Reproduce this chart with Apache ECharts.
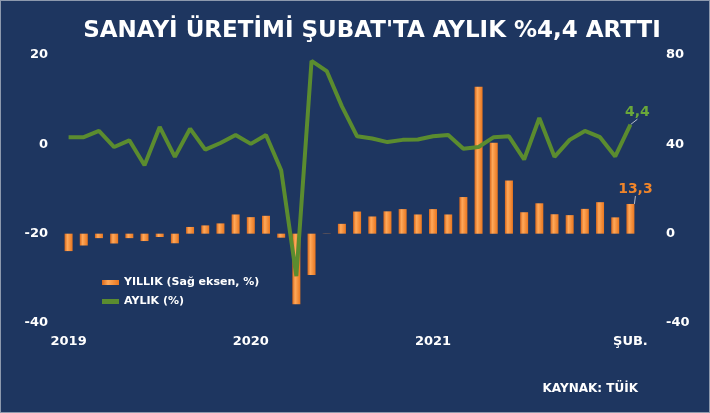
<!DOCTYPE html>
<html><head><meta charset="utf-8">
<script src="https://cdn.jsdelivr.net/npm/echarts@6/dist/echarts.min.js"></script>
<style>html,body{margin:0;padding:0;background:#1e3660;}#c{width:710px;height:413px;box-sizing:border-box;border:1px solid #8d99ad;}</style>
</head><body><div id="c"></div><script>
const months = ['Oca 2019','Şub 2019','Mar 2019','Nis 2019','May 2019','Haz 2019','Tem 2019','Ağu 2019','Eyl 2019','Eki 2019','Kas 2019','Ara 2019',
'Oca 2020','Şub 2020','Mar 2020','Nis 2020','May 2020','Haz 2020','Tem 2020','Ağu 2020','Eyl 2020','Eki 2020','Kas 2020','Ara 2020',
'Oca 2021','Şub 2021','Mar 2021','Nis 2021','May 2021','Haz 2021','Tem 2021','Ağu 2021','Eyl 2021','Eki 2021','Kas 2021','Ara 2021',
'Oca 2022','Şub 2022'];
const tickLabels = {0:'2019',12:'2020',24:'2021',37:'ŞUB.'};
const yillik = [-7.8,-5.3,-2.0,-4.4,-2.0,-3.3,-1.5,-4.3,3.0,3.7,4.6,8.6,7.4,8.0,-1.8,-31.6,-18.5,-0.1,4.4,9.9,7.7,10.0,11.0,8.6,11.0,8.6,16.4,65.8,40.7,23.8,9.6,13.6,8.7,8.3,11.1,14.1,7.3,13.3];
const aylik = [1.6,1.6,3.0,-0.6,0.9,-4.7,3.9,-2.8,3.5,-1.2,0.3,2.1,0.1,2.1,-5.8,-29.5,18.7,16.4,8.5,1.8,1.3,0.5,1.0,1.1,1.8,2.1,-1.0,-0.6,1.6,1.8,-3.4,5.9,-2.8,1.0,3.0,1.6,-2.7,4.4];
const leftTicks = {min:-40,max:20,interval:20};
const rightTicks = {min:-40,max:80,interval:40};

const FONT = 'DejaVu Sans';
const last = months.length - 1;
const chart = echarts.init(document.getElementById('c'), null, {renderer:'canvas'});
const orange = '#f0852a', green = '#5b8c2f';
const barGrad = new echarts.graphic.LinearGradient(0,0,1,0,[
  {offset:0,color:'#d9671a'},{offset:0.35,color:'#ffa95a'},{offset:1,color:'#e9761f'}]);
const fmt = v => String(v).replace('.',',');
const guide = {show:true,lineStyle:{color:'#b4bccb',width:1}};
chart.setOption({
  backgroundColor:'#1e3660',
  animation:false,
  title:{text:"SANAYİ ÜRETİMİ ŞUBAT'TA AYLIK %4,4 ARTTI",left:366,textAlign:'center',top:14,
    textStyle:{color:'#ffffff',fontFamily:FONT,fontWeight:'bold',fontSize:23}},
  graphic:[{type:'text',right:71,top:382,style:{text:'KAYNAK: TÜİK',fill:'#ffffff',font:'bold 12px "DejaVu Sans"'}}],
  legend:{orient:'vertical',left:96,top:271,itemGap:8,itemWidth:17,itemHeight:5,
    textStyle:{color:'#ffffff',fontFamily:FONT,fontWeight:'bold',fontSize:11},
    data:[{name:'YILLIK (Sağ eksen, %)',icon:'rect'},{name:'AYLIK (%)',icon:'rect'}]},
  grid:{left:60,right:71,top:54,bottom:89},
  xAxis:{type:'category',data:months,boundaryGap:true,
    axisLine:{show:false},axisTick:{show:false},
    axisLabel:{interval:0,margin:12,color:'#ffffff',fontFamily:FONT,fontWeight:'bold',fontSize:13,
      formatter:(v,i)=>tickLabels[i]||''}},
  yAxis:[
    {type:'value',min:leftTicks.min,max:leftTicks.max,interval:leftTicks.interval,splitLine:{show:false},
     axisLine:{show:false},axisTick:{show:false},
     axisLabel:{margin:13,color:'#ffffff',fontFamily:FONT,fontWeight:'bold',fontSize:13}},
    {type:'value',min:rightTicks.min,max:rightTicks.max,interval:rightTicks.interval,splitLine:{show:false},
     axisLine:{show:false},axisTick:{show:false},
     axisLabel:{margin:28,color:'#ffffff',fontFamily:FONT,fontWeight:'bold',fontSize:13}}
  ],
  series:[
    {name:'YILLIK (Sağ eksen, %)',type:'bar',yAxisIndex:1,barWidth:8,
     itemStyle:{color:barGrad},
     labelLine:guide,
     labelLayout:p=>p.dataIndex===last?{dx:5,dy:-3}:{},
     data:yillik.map((v,i)=>i===last?{value:v,label:{show:true,position:'top',distance:5,formatter:()=>fmt(v),
       color:orange,fontFamily:FONT,fontWeight:'bold',fontSize:14}}:v)},
    {name:'AYLIK (%)',type:'line',yAxisIndex:0,symbol:'none',z:3,
     lineStyle:{color:green,width:4},itemStyle:{color:green},
     labelLine:guide,
     labelLayout:p=>p.dataIndex===last?{dx:7,dy:0}:{},
     data:aylik.map((v,i)=>i===last?{value:v,symbol:'circle',symbolSize:1,label:{show:true,position:'top',distance:5,formatter:()=>fmt(v),
       color:'#6aa83a',fontFamily:FONT,fontWeight:'bold',fontSize:14}}:v)}
  ]
});
</script></body></html>
